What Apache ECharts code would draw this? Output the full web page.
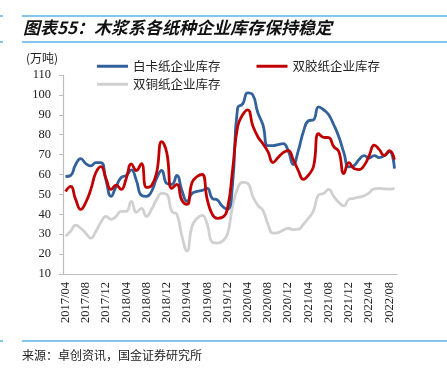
<!DOCTYPE html>
<html>
<head>
<meta charset="utf-8">
<script src="https://cdn.jsdelivr.net/npm/echarts@6/dist/echarts.min.js"></script>
<style>
html,body{margin:0;padding:0;background:#fff;}
#c{width:447px;height:368px;}
</style>
</head>
<body>
<div id="c"></div>
<script>
// months 2017/04 .. 2022/09
var categories = [];
(function(){
  var y = 2017, m = 4;
  for (var k = 0; k < 66; k++) {
    categories.push(y + '/' + (m < 10 ? '0' + m : '' + m));
    m++; if (m > 12) { m = 1; y++; }
  }
})();

var whiteCard = [59, 59.5, 65, 68, 65.5, 64.3, 66, 66, 57, 49,
  54, 58.5, 59.5, 62.3, 57, 49.5, 49, 51.5, 58, 62,
  55.5, 55, 59.5, 52, 46.5, 50.5, 51.5, 52, 53, 48,
  47.2, 44, 42.5, 55, 93.5, 95.5, 101, 100, 91, 85,
  74.5, 74.5, 75, 75.5, 72, 65, 72, 81.5, 87, 87.5,
  94, 92.5, 90, 85, 79, 71, 63.8, 64.5, 67.5, 69.5,
  68.3, 69.5, 68.5, 69.5, 71.5, 63];

var offset = [51.4, 54, 47.5, 42.5, 46, 52.5, 61, 64, 58, 52.5,
  54.7, 52.5, 58, 65.3, 62, 65.5, 53.5, 54.5, 61, 76.5,
  71, 53, 55, 47, 45, 56, 59, 60, 47.5, 40,
  38, 38.5, 43, 62, 84, 90, 92.5, 84.5, 79, 75.5,
  71.5, 66, 68.5, 71, 72, 67.5, 62, 57.6, 59.7, 64,
  80.5, 78.7, 78.5, 74, 71.5, 60.5, 66, 63, 62.5, 64.5,
  69.5, 74.8, 72.5, 69.5, 72, 67.5];

var coated = [29, 31.5, 34.5, 33, 30.5, 28, 31.5, 36, 39, 37.5,
  39, 41.5, 41.5, 46.5, 41, 43, 39, 42.5, 47.5, 50.5,
  50, 41.5, 40, 29, 21.5, 34, 38, 39.5, 35, 26,
  25.5, 26.5, 30, 44, 53, 56, 55.5, 49, 44.5, 42,
  35, 30.5, 30.8, 32, 33, 32.3, 32.5, 35, 38, 41.8,
  49.7, 50.5, 52.5, 49, 46, 44.2, 47.5, 48, 48.6, 49.3,
  50.8, 52.8, 53, 52.8, 52.7, 53];

var seriesNames = ['白卡纸企业库存', '双胶纸企业库存', '双铜纸企业库存'];
var yMin = 10, yMax = 110, yStep = 10;

var chart = echarts.init(document.getElementById('c'), null, {renderer: 'canvas'});
var serif = '"Liberation Serif", "Noto Sans CJK SC", serif';
var cjk = '"Noto Sans CJK SC", sans-serif';
var lineBlue = '#5ab4e5';

chart.setOption({
  animation: false,
  backgroundColor: '#ffffff',
  graphic: [
    {type: 'line', shape: {x1: 22, y1: 16, x2: 447, y2: 16}, style: {stroke: lineBlue, lineWidth: 1.5}},
    {type: 'line', shape: {x1: 0, y1: 16, x2: 3, y2: 16}, style: {stroke: lineBlue, lineWidth: 1.5}},
    {type: 'line', shape: {x1: 22, y1: 42, x2: 447, y2: 42}, style: {stroke: lineBlue, lineWidth: 1.5}},
    {type: 'line', shape: {x1: 0, y1: 42, x2: 3, y2: 42}, style: {stroke: lineBlue, lineWidth: 1.5}},
    {type: 'line', shape: {x1: 22, y1: 341, x2: 447, y2: 341}, style: {stroke: lineBlue, lineWidth: 1.5}},
    {type: 'line', shape: {x1: 0, y1: 341, x2: 3, y2: 341}, style: {stroke: lineBlue, lineWidth: 1.5}},
    {type: 'text', left: 23, top: 19, style: {text: '图表55：木浆系各纸种企业库存保持稳定', font: 'italic bold 17px ' + cjk, fill: '#111'}},
    {type: 'text', left: 26, top: 52, style: {text: '(万吨)', font: '12px ' + cjk, fill: '#222'}},
    {type: 'text', left: 22, top: 349, style: {text: '来源：卓创资讯，国金证券研究所', font: '12px ' + cjk, fill: '#222'}}
  ],
  legend: [
    {data: [seriesNames[0], seriesNames[1]], left: 92, top: 55, itemGap: 36, icon: 'rect', itemWidth: 31, itemHeight: 3,
     textStyle: {fontFamily: cjk, fontSize: 12.5, color: '#222'}, selectedMode: false},
    {data: [seriesNames[2]], left: 92, top: 73, icon: 'rect', itemWidth: 31, itemHeight: 3,
     textStyle: {fontFamily: cjk, fontSize: 12.5, color: '#222'}, selectedMode: false}
  ],
  grid: {left: 63, right: 50, top: 75, bottom: 94, containLabel: false},
  xAxis: {
    type: 'category',
    data: categories,
    boundaryGap: true,
    axisLine: {lineStyle: {color: '#bdbdbd', width: 1.2}},
    axisTick: {interval: 3, length: 4, lineStyle: {color: '#bdbdbd'}},
    axisLabel: {interval: 3, rotate: 90, margin: 8, fontFamily: serif, fontSize: 12.5, color: '#222'},
    splitLine: {show: false}
  },
  yAxis: {
    type: 'value',
    min: yMin, max: yMax, interval: yStep,
    axisLine: {show: true, lineStyle: {color: '#bdbdbd', width: 1.2}},
    axisTick: {show: true, length: 4, lineStyle: {color: '#bdbdbd'}},
    axisLabel: {margin: 12, fontFamily: serif, fontSize: 12.5, color: '#222'},
    splitLine: {show: false}
  },
  series: [
    {name: seriesNames[2], type: 'line', data: coated, smooth: 0.5, showSymbol: false,
     lineStyle: {color: '#d0d0d0', width: 2.8}, itemStyle: {color: '#d0d0d0'}},
    {name: seriesNames[0], type: 'line', data: whiteCard, smooth: 0.5, showSymbol: false,
     lineStyle: {color: '#33619c', width: 2.8}, itemStyle: {color: '#33619c'}},
    {name: seriesNames[1], type: 'line', data: offset, smooth: 0.5, showSymbol: false,
     lineStyle: {color: '#c00000', width: 2.8}, itemStyle: {color: '#c00000'}}
  ]
});
</script>
</body>
</html>
